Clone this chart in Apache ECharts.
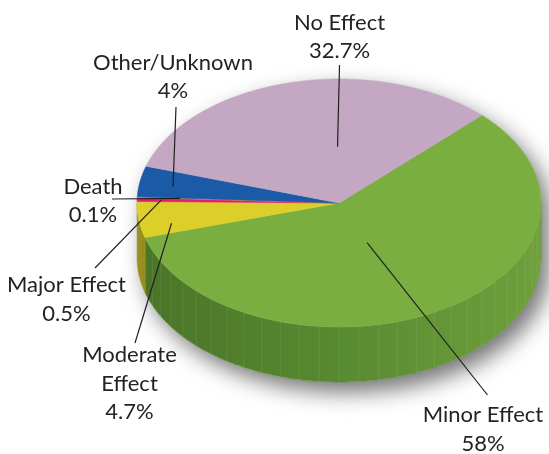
<!DOCTYPE html>
<html><head><meta charset="utf-8">
<script src="https://cdn.jsdelivr.net/npm/echarts@6/dist/echarts.min.js"></script>
<style>html,body{margin:0;padding:0;background:#fff}#c{width:549px;height:454px}</style>
</head><body><div id="c"></div>
<script>
// ---- data ----
const categories = ['Minor Effect', 'Moderate Effect', 'Major Effect', 'Death', 'Other/Unknown', 'No Effect'];
const values = [58, 4.7, 0.5, 0.1, 4, 32.7];
const labelTexts = ['Minor Effect\n58%', 'Moderate\nEffect\n4.7%', 'Major Effect\n0.5%', 'Death\n0.1%', 'Other/Unknown\n4%', 'No Effect\n32.7%'];

// ---- styles / layout ----
const topColors = ['#7aae41', '#dccf2a', '#e6197e', '#dd9636', '#1b5aa6', '#c4a7c3'];
const sideColors = [
  ['#4a7428', '#588a31', '#6fa03c'],
  ['#968c1c', '#a59b22', '#b0a52a'],
  ['#a0105a', '#b0145f', '#c01868'],
  ['#a06a20', '#b07628', '#c08230'],
  ['#103f7a', '#134888', '#175096'],
  ['#8e7890', '#9c859e', '#aa92ac']
];
const geo = { cx: 339, cy: 203, rx: 202, ry: 124, depth: 55, startAngle: 45 };
// label layout: text center x, text top y, leader outer point, leader inner (t along slice, r radius fraction)
const labelLayout = [
  { x: 483, y: 401, ox: 487.5, oy: 395, t: 0.534, r: 0.349 },
  { x: 129.5, y: 341, ox: 135, oy: 343, t: 0.30, r: 0.845 },
  { x: 66.5, y: 271, ox: 95, oy: 268, t: 0.5, r: 0.88 },
  { x: 93, y: 172.5, ox: 112, oy: 199, t: 0.5, r: 0.787 },
  { x: 173, y: 48.5, ox: 176, oy: 107, t: 0.43, r: 0.832 },
  { x: 339.5, y: 8.5, ox: 339.5, oy: 65, t: 0.61, r: 0.454 }
];
const FONT = 'Lato, "Open Sans", sans-serif';

// ---- geometry derived from data ----
const total = values.reduce((a, b) => a + b, 0);
const angles = [];
{
  let cum = 0;
  values.forEach(v => {
    const a0 = geo.startAngle - 360 * cum / total;
    cum += v;
    const a1 = geo.startAngle - 360 * cum / total;
    angles.push([a0, a1]);
  });
}
const rad = d => d * Math.PI / 180;
function pt(a, r, dz) {
  return [geo.cx + geo.rx * r * Math.cos(rad(a)), geo.cy - geo.ry * r * Math.sin(rad(a)) + (dz || 0)];
}
function arcPts(a0, a1, r, dz) {
  const n = Math.max(2, Math.ceil(Math.abs(a0 - a1) / 0.5));
  const out = [];
  for (let i = 0; i <= n; i++) out.push(pt(a0 + (a1 - a0) * i / n, r, dz));
  return out;
}
function visibleRanges(a0, a1) {
  const res = [];
  for (const [lo, hi] of [[-180, 0], [180, 360], [-540, -360]]) {
    const s = Math.max(a1, lo), e = Math.min(a0, hi);
    if (e > s) res.push([e, s]);
  }
  return res;
}

function renderItem(params, api) {
  const i = params.dataIndex;
  const [a0, a1] = angles[i];
  const children = [];

  if (i === 0) {
    const sil = arcPts(0, 180, 1, 0).concat(arcPts(180, 360, 1, geo.depth));
    children.push({
      type: 'polygon', z2: 0,
      shape: { points: sil },
      style: { fill: '#ffffff', shadowBlur: 22, shadowColor: 'rgba(0,0,0,0.55)', shadowOffsetX: 8, shadowOffsetY: 10 }
    });
  }

  visibleRanges(a0, a1).forEach(([s, e]) => {
    const top = arcPts(s, e, 1, 0);
    const bot = arcPts(e, s, 1, geo.depth);
    const sc = sideColors[i];
    children.push({
      type: 'polygon', z2: 5,
      shape: { points: top.concat(bot) },
      style: {
        fill: new echarts.graphic.LinearGradient(geo.cx - geo.rx, 0, geo.cx + geo.rx, 0,
          [{ offset: 0, color: sc[0] }, { offset: 0.5, color: sc[1] }, { offset: 1, color: sc[2] }], true),
        stroke: sc[1], lineWidth: 0.5
      }
    });
    const step = 5.625;
    for (let a = Math.ceil(e / step) * step; a < s; a += step) {
      const p = pt(a, 1, 0), q = pt(a, 1, geo.depth);
      children.push({
        type: 'line', z2: 6,
        shape: { x1: p[0], y1: p[1], x2: q[0], y2: q[1] },
        style: { stroke: 'rgba(255,255,255,0.08)', lineWidth: 1 }
      });
    }
  });

  const face = [[geo.cx, geo.cy]].concat(arcPts(a0, a1, 1, 0));
  children.push({
    type: 'polygon', z2: 10,
    shape: { points: face },
    style: { fill: topColors[i], stroke: topColors[i], lineWidth: 0.6 }
  });

  const L = labelLayout[i];
  const inner = pt(a0 + (a1 - a0) * L.t, L.r, 0);
  children.push({
    type: 'line', z2: 20,
    shape: { x1: L.ox, y1: L.oy, x2: inner[0], y2: inner[1] },
    style: { stroke: '#231f20', lineWidth: 1.2 }
  });
  children.push({
    type: 'text', z2: 20,
    x: L.x, y: L.y,
    style: {
      text: labelTexts[i], fill: '#262223',
      font: '22px ' + FONT, lineHeight: 28.5,
      align: 'center', verticalAlign: 'top'
    }
  });

  return { type: 'group', children };
}

const chart = echarts.init(document.getElementById('c'), null, { renderer: 'canvas' });
chart.setOption({
  animation: false,
  backgroundColor: '#ffffff',
  series: [{
    type: 'custom',
    coordinateSystem: 'none',
    renderItem,
    data: values.map((v, i) => ({ name: categories[i], value: v }))
  }]
});
</script>
</body></html>
